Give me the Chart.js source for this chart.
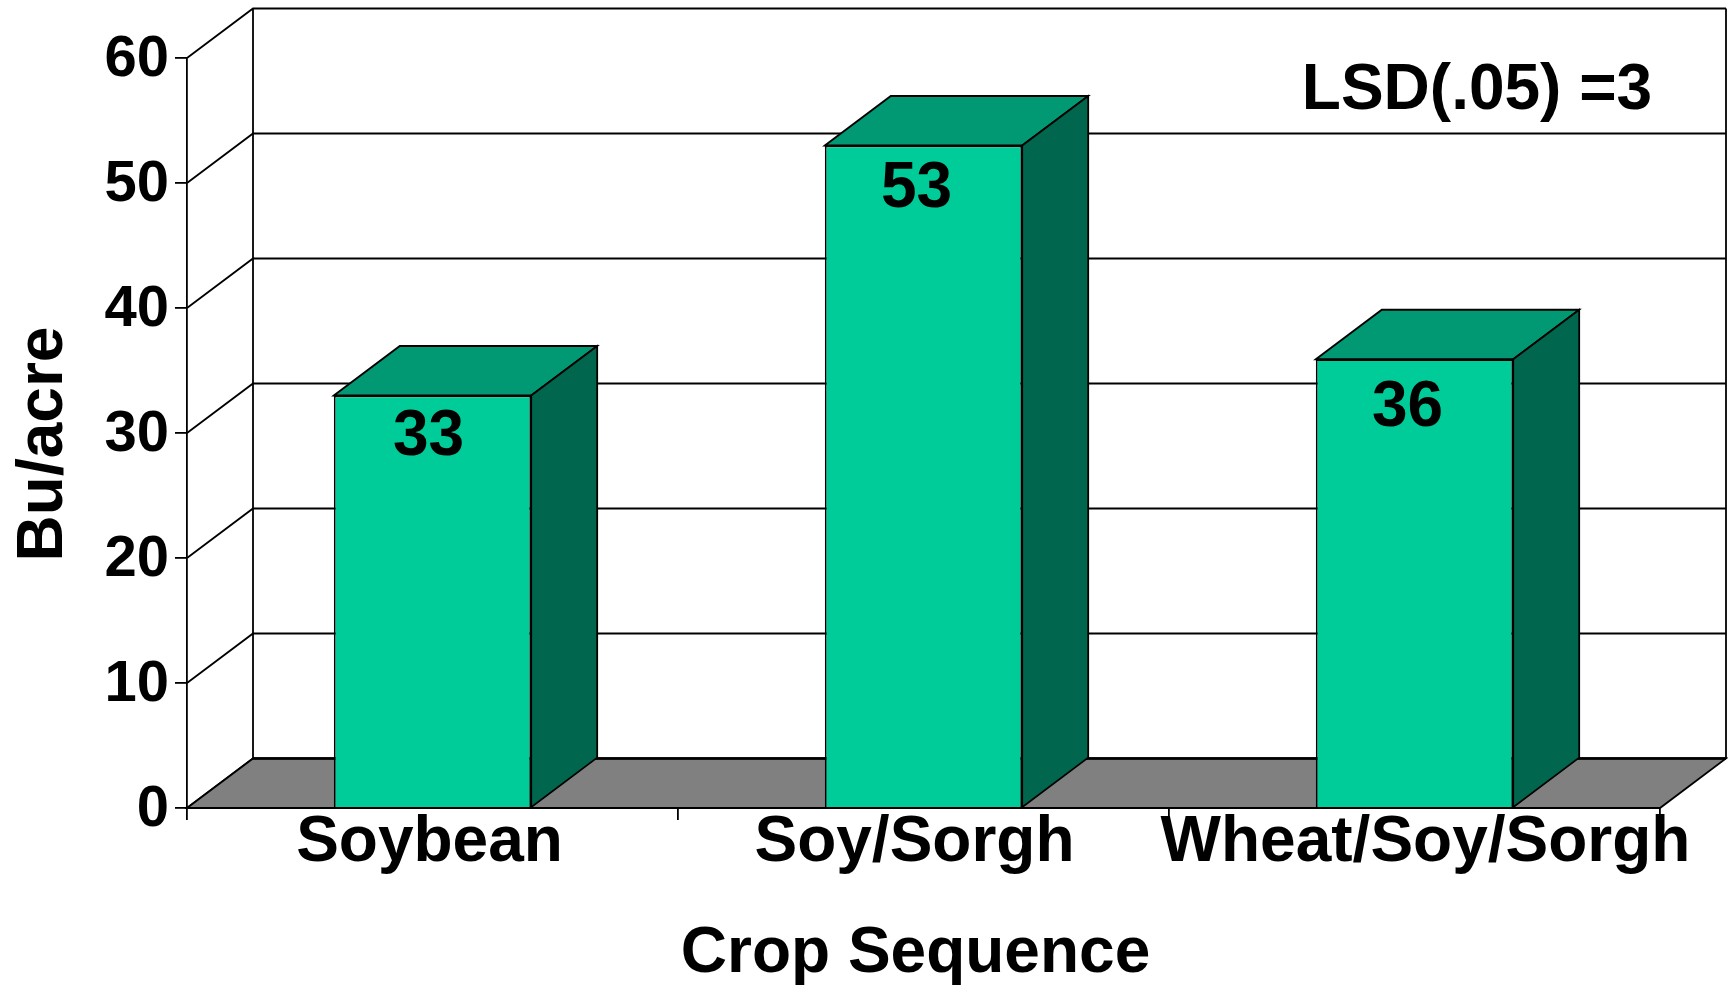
<!DOCTYPE html>
<html>
<head>
<meta charset="utf-8">
<style>html,body{margin:0;padding:0;background:#fff}canvas{display:block}</style>
<script src="https://cdn.jsdelivr.net/npm/chart.js@4"></script>
</head>
<body>
<canvas id="c" width="1728" height="985"></canvas>
<script>
const categories = ["Soybean", "Soy/Sorgh", "Wheat/Soy/Sorgh"];
const yields = [33, 53, 35.9];
const yTitle = "Bu/acre";
const xTitle = "Crop Sequence";
const note = "LSD(.05) =3";

const FONT = '"Liberation Sans", Arial, sans-serif';
const depth = {dx: 66, dy: 49.5};
const colors = {front: '#00CC99', top: '#009973', side: '#00664D', floor: '#808080', line: '#000000'};
const tickLabelShift = [-3, -9, 11];
const valueLabelOffset = [[-4, 42], [-7, 44], [-7, 49]];

function poly(ctx, pts, fill) {
  ctx.beginPath();
  pts.forEach((p, i) => i ? ctx.lineTo(p[0], p[1]) : ctx.moveTo(p[0], p[1]));
  ctx.closePath();
  if (fill) { ctx.fillStyle = fill; ctx.fill(); }
  ctx.stroke();
}

const threeD = {
  id: 'threeD',
  beforeDraw(chart) {
    const {x, y} = chart.scales;
    if (!chart.$adjusted) {
      chart.$adjusted = true;
      x.getLabelItems().forEach((it, i) => { it.options.translation[0] += tickLabelShift[i] || 0; });
      y.getLabelItems().forEach(it => { it.options.translation[1] += 2; });
      const wrap = (s, dx, dy) => {
        const orig = s.drawTitle;
        s.drawTitle = function () {
          s.ctx.save(); s.ctx.translate(dx, dy); orig.call(s); s.ctx.restore();
        };
      };
      wrap(x, -8, 0);
      wrap(y, 0, 11);
    }
  },
  beforeDatasetsDraw(chart) {
    const ctx = chart.ctx, {x, y} = chart.scales, a = chart.chartArea;
    const {dx, dy} = depth;
    ctx.save();
    ctx.strokeStyle = colors.line;
    ctx.lineJoin = 'miter';
    ctx.lineWidth = 1.8;
    const b0 = y.getPixelForValue(0);
    // walls and gridlines
    y.ticks.forEach(t => {
      const py = y.getPixelForValue(t.value);
      ctx.beginPath();
      ctx.moveTo(a.left, py);
      ctx.lineTo(a.left + dx, py - dy);
      ctx.lineTo(a.right + dx, py - dy);
      ctx.stroke();
    });
    const top = y.getPixelForValue(y.max);
    ctx.beginPath();
    ctx.moveTo(a.left + dx, top - dy); ctx.lineTo(a.left + dx, b0 - dy);
    ctx.moveTo(a.right + dx, top - dy); ctx.lineTo(a.right + dx, b0 - dy);
    ctx.stroke();
    // floor
    poly(ctx, [[a.left, b0], [a.left + dx, b0 - dy], [a.right + dx, b0 - dy], [a.right, b0]], colors.floor);
    ctx.lineWidth = 2.4;
    ctx.beginPath();
    ctx.moveTo(a.left + dx, b0 - dy); ctx.lineTo(a.right + dx, b0 - dy);
    ctx.stroke();
    ctx.lineWidth = 1.8;
    // bar top and side faces
    chart.getDatasetMeta(0).data.forEach(bar => {
      const p = bar.getProps(['x', 'y', 'width', 'base'], true);
      const l = p.x - p.width / 2, r = p.x + p.width / 2;
      poly(ctx, [[l, p.y], [l + dx, p.y - dy], [r + dx, p.y - dy], [r, p.y]], colors.top);
      poly(ctx, [[r, p.y], [r + dx, p.y - dy], [r + dx, p.base - dy], [r, p.base]], colors.side);
    });
    ctx.restore();
  },
  afterDatasetsDraw(chart) {
    const ctx = chart.ctx;
    ctx.save();
    ctx.fillStyle = '#000';
    ctx.textAlign = 'center';
    ctx.textBaseline = 'middle';
    ctx.font = 'bold 64px ' + FONT;
    chart.getDatasetMeta(0).data.forEach((bar, i) => {
      const p = bar.getProps(['x', 'y'], true);
      ctx.fillText(yields[i].toFixed(0), p.x + valueLabelOffset[i][0], p.y + valueLabelOffset[i][1]);
    });
    ctx.fillText(note, 1477, 91);
    ctx.restore();
  }
};

new Chart(document.getElementById('c'), {
  type: 'bar',
  data: {
    labels: categories,
    datasets: [{
      data: yields,
      backgroundColor: colors.front,
      borderColor: colors.line,
      borderWidth: 1.8,
      barPercentage: 0.402,
      categoryPercentage: 1
    }]
  },
  plugins: [threeD],
  options: {
    responsive: false,
    animation: false,
    devicePixelRatio: 1,
    layout: {padding: {left: 0, top: 58, right: 68, bottom: 0}},
    plugins: {legend: {display: false}, title: {display: false}, tooltip: {enabled: false}},
    scales: {
      x: {
        afterFit(s) { s.height = 985 - 808; },
        grid: {drawOnChartArea: false, drawTicks: true, tickLength: 12, color: '#000', lineWidth: 1.8},
        border: {display: true, color: '#000', width: 1.8},
        ticks: {
          color: '#000', font: {family: FONT, size: 64, weight: 'bold'},
          padding: -15, maxRotation: 0, minRotation: 0, autoSkip: false
        },
        title: {
          display: true, text: xTitle, color: '#000',
          font: {family: FONT, size: 64, weight: 'bold'}, padding: {top: 0, bottom: -8}
        }
      },
      y: {
        min: 0, max: 60,
        afterFit(s) { s.width = 187; },
        grid: {drawOnChartArea: false, drawTicks: true, tickLength: 12, color: '#000', lineWidth: 1.8},
        border: {display: true, color: '#000', width: 1.8},
        ticks: {
          stepSize: 10, color: '#000', font: {family: FONT, size: 58, weight: 'bold'},
          padding: 6
        },
        title: {
          display: true, text: yTitle, color: '#000',
          font: {family: FONT, size: 64, weight: 'bold'}, padding: {top: 6, bottom: 0}
        }
      }
    }
  }
});
</script>
</body>
</html>
